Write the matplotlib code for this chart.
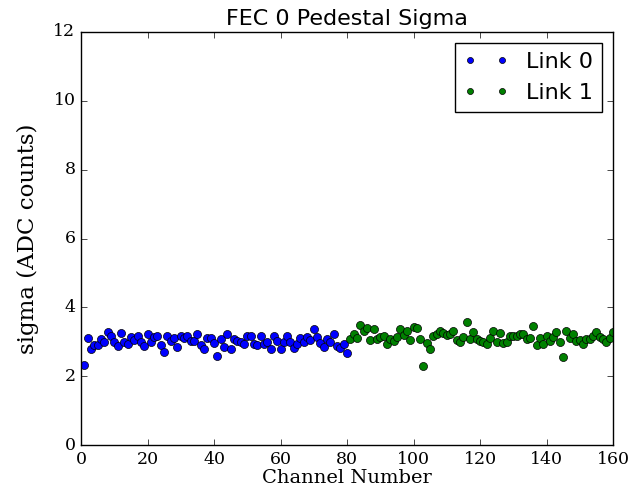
import matplotlib
matplotlib.use('Agg')
import matplotlib.pyplot as plt

# pedestal sigma per channel, FEC 0
link0_sigma = [2.32, 3.10, 2.79, 2.91, 2.91, 3.07, 2.98, 3.27, 3.18, 2.98,
               2.89, 3.26, 3.00, 2.93, 3.13, 3.05, 3.17, 3.00, 2.88, 3.23,
               2.98, 3.15, 3.17, 2.91, 2.70, 3.17, 3.03, 3.10, 2.86, 3.17,
               3.10, 3.18, 3.03, 3.03, 3.22, 2.91, 2.80, 3.12, 3.12, 2.96,
               2.59, 3.08, 2.86, 3.22, 2.80, 3.08, 3.03, 2.98, 2.93, 3.18,
               3.18, 2.93, 2.91, 3.18, 2.93, 3.00, 2.78, 3.18, 3.03, 2.78,
               3.00, 3.18, 2.98, 2.81, 2.93, 3.10, 2.98, 3.15, 3.05, 3.36,
               3.15, 2.96, 2.86, 3.08, 3.00, 3.22, 2.88, 2.83, 2.93, 2.66]
link1_sigma = [3.08, 3.23, 3.10, 3.49, 3.32, 3.41, 3.05, 3.36, 3.08, 3.15,
               3.17, 2.93, 3.08, 3.03, 3.15, 3.36, 3.20, 3.32, 3.05, 3.42,
               3.39, 3.08, 2.30, 2.96, 2.79, 3.18, 3.23, 3.31, 3.26, 3.20,
               3.23, 3.32, 3.05, 3.00, 3.15, 3.58, 3.08, 3.29, 3.08, 3.03,
               2.98, 2.94, 3.10, 3.32, 2.98, 3.25, 2.96, 2.98, 3.18, 3.18,
               3.18, 3.23, 3.23, 3.08, 3.10, 3.46, 2.91, 3.10, 2.93, 3.17,
               3.02, 3.13, 3.29, 2.98, 2.55, 3.32, 3.10, 3.22, 3.02, 3.05,
               2.94, 3.07, 3.07, 3.18, 3.28, 3.13, 3.07, 3.00, 3.10, 3.28]
link0_chan = list(range(1, 81))
link1_chan = list(range(81, 161))

plt.style.use('classic')
plt.rcParams['figure.facecolor'] = 'white'

fig = plt.figure(figsize=(6.41, 4.87), dpi=100)
ax = fig.add_axes([81/641., 1 - 445/487., (613 - 81)/641., (445 - 32)/487.])

ax.plot(link0_chan, link0_sigma, 'bo', markersize=5.8, label='Link 0')
ax.plot(link1_chan, link1_sigma, 'go', markersize=5.8, label='Link 1')

ax.set_xlim(0, 160)
ax.set_ylim(0, 12)
ax.set_xticks(range(0, 161, 20))
ax.set_yticks(range(0, 13, 2))
for lab in ax.get_xticklabels() + ax.get_yticklabels():
    lab.set_family('DejaVu Serif')
    lab.set_fontsize(12.5)

ax.set_title('FEC 0 Pedestal Sigma', fontsize=16, family='DejaVu Sans')
ax.set_xlabel('Channel Number', fontsize=14, family='DejaVu Serif', labelpad=1)
ax.set_ylabel('sigma (ADC counts)', fontsize=16.5, family='DejaVu Serif', labelpad=10)
ax.legend(loc='upper right', numpoints=2, markerscale=0.75,
          prop={'family': 'DejaVu Sans', 'size': 16})

fig.savefig('out.png', dpi=100)
